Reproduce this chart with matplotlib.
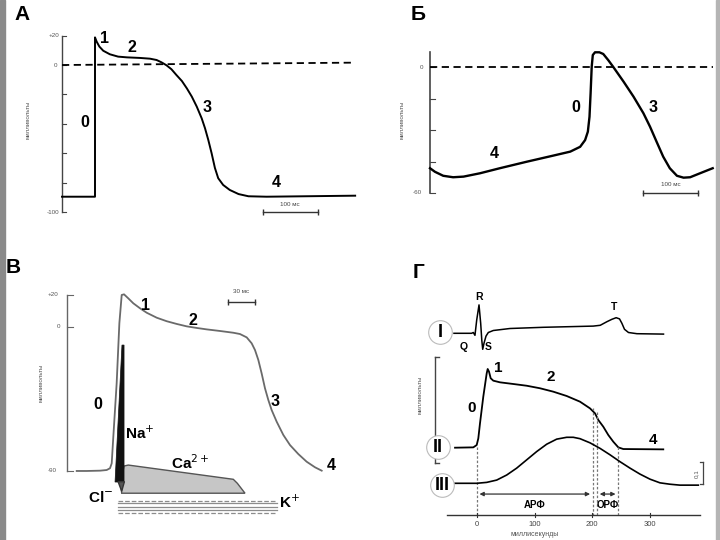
import matplotlib.pyplot as plt
from matplotlib.patches import Polygon, Rectangle

plt.rcParams['font.family'] = ['Liberation Sans', 'DejaVu Sans']

W, H = 720, 540

# ---- panel A: ventricular action potential (ms, mV)
a_t = [-60, 0, 0, 3, 8, 15, 27, 42, 58, 82, 100, 112, 121, 130, 139, 148, 158, 167,
       176, 185, 194, 200, 206, 212, 218, 224, 233, 245, 261, 279, 312, 473]
a_v = [-89.6, -89.6, 18.8, 15.9, 12.5, 9.7, 7.3, 5.7, 5.2, 4.8, 4.3, 3.4, 1.8, -0.2,
       -2.9, -6.8, -10.9, -15.9, -21.5, -28.3, -36.3, -43, -51, -60, -70, -77, -81.6,
       -85, -87.8, -89.3, -89.6, -88.9]
a_ticks = [20, 0, -20, -40, -60, -80, -100]

# ---- panel Б: pacemaker action potential (ms, mV)
b_t = [0, 9, 24, 42, 61, 91, 127, 176, 224, 255, 273, 282, 287, 290, 292, 294, 296,
       300, 308, 315, 324, 333, 352, 370, 388, 400, 412, 424, 436, 449, 461, 473, 491, 514]
b_v = [-48.2, -49.9, -51.8, -52.5, -52.2, -50.6, -48.2, -45.1, -42.2, -40.3, -38, -34.8,
       -30.8, -23.7, -12.5, 0.1, 5.7, 7, 7, 6.2, 3.3, 0.1, -7, -14.1, -22, -28.4, -35.6,
       -42.7, -48.2, -51.8, -52.7, -52.5, -50.6, -48.2]
b_ticks = [0, -15, -30, -45, -60]

# ---- panel В: action potential with ionic currents (ms, mV)
c_t = [-37, -26, -11, -3.7, 0, 1.9, 3.7, 7.4, 10.4, 13, 15.6, 20.3, 25.9, 33.3, 40.8,
       51.9, 63, 74.1, 85.2, 96.3, 107.4, 122.2, 137, 144.4, 151.9, 157.4, 161.1, 164.8,
       168.5, 172.2, 175.9, 179.6, 185.2, 192.6, 200, 209.2, 218.5, 227.8, 235.2]
c_v = [-90.3, -90.3, -90.1, -89.7, -88.6, -85.5, -68.8, -35.5, 2, 19.7, 20.1, 17.6, 14.5,
       11.4, 8.6, 5.5, 3.3, 1.6, 0.1, -0.9, -1.8, -2.8, -3.9, -4.7, -6.8, -10.5, -14.7,
       -20.9, -29.3, -38.6, -45.9, -52.2, -59.5, -67.8, -74.1, -79.7, -84.5, -88, -90.1]
na_t = [5.6, 13.3, 15.6, 15.6]
na_v = [-97.2, -11.6, -11.6, -97.2]
ca_t = [15.6, 20.3, 137, 141.5, 150, 13, 11.9]
ca_v = [-87.2, -86.6, -95.5, -98, -104.2, -104.2, -98]
k_levels = [-109.1, -110.5, -112.8, -114.7, -116.6]
k_styles = ['--', '-', '-', '-', '--']
c_ticks = [20, 0, -90]

# ---- panel Г: ECG (mV), AP (mV), contraction (rel.)
ecg_t = [-39.3, -8.8, -5.9, -3, 0, 4, 6.9, 8.8, 10.4, 12.6, 16.1, 20.1, 28.7, 57.6,
         115.2, 172.9, 201.6, 213.7, 225.3, 233.9, 241.3, 247.1, 251.2, 255.7, 262.6,
         277.2, 323.2]
ecg_v = [0, 0, 0.02, -0.05, 0.33, 0.71, 0.25, -0.17, -0.4, -0.25, -0.07, 0.02, 0.07,
         0.12, 0.15, 0.17, 0.18, 0.2, 0.29, 0.35, 0.39, 0.36, 0.25, 0.1, 0.02, -0.01, -0.02]
ap_t = [-37.5, -5.9, 0, 2.8, 5.7, 11.4, 17.3, 19, 21.3, 24.2, 28.7, 40.3, 63.3, 86.5,
        109.5, 132.5, 155.7, 178.7, 196, 204.7, 210.4, 219, 227.7, 236.3, 245, 253.6, 322.8]
ap_v = [-89.5, -89, -85.5, -75.5, -53, -13, 22, 28.5, 24.5, 14.6, 11, 8.5, 6, 3.4, -0.4,
        -5.5, -12, -20.5, -30.5, -38, -48, -58, -70.5, -80.5, -89, -91.5, -92]
con_t = [-37.5, 0, 17.3, 34.6, 51.9, 69.2, 86.5, 103.8, 121.1, 138.4, 155.7, 167.1,
         178.7, 196, 213.3, 230.6, 247.9, 265.2, 282.5, 299.8, 317.1, 334.4, 351.6, 383.4]
con_v = [0, 0, 0.02, 0.07, 0.18, 0.33, 0.51, 0.69, 0.85, 0.96, 1.0, 1.0, 0.97, 0.88,
         0.76, 0.62, 0.47, 0.33, 0.20, 0.09, 0.01, -0.02, -0.04, -0.04]
time_ticks = [0, 100, 200, 300]
arf_t = [0, 201]
orf_t = [208, 245]
refr_marks = [0, 201, 208, 245]
refr_tops = [-89, -30.5, -36, -89]

fig = plt.figure(figsize=(7.2, 5.4), dpi=100)


def overlay(x0, y0, sx, sy):
    # axes over the whole figure, data (0, 0) at pixel (x0, y0)
    ax = fig.add_axes([0, 0, 1, 1])
    ax.set_xlim(-x0 / sx, (W - x0) / sx)
    ax.set_ylim((y0 - H) / sy, y0 / sy)
    ax.axis('off')
    ax.patch.set_alpha(0)
    return ax


def letter(x, y, s):
    fig.text(x / W, 1 - y / H, s, fontsize=15, fontweight='bold', ha='center', va='center')


def ylab(ax, t, v, fs=4.5):
    ax.text(t, v, 'милливольты', rotation=90, fontsize=fs, color='#555',
            ha='center', va='center')


def num(ax, t, v, s, fs=11.5):
    ax.text(t, v, s, fontsize=fs, fontweight='bold', ha='center', va='center')


def scalebar(ax, t1, t2, v, dv, label):
    ax.plot([t1, t2], [v, v], color='#333', lw=1, marker='|', ms=5, mew=1)
    ax.text((t1 + t2) / 2, v + dv, label, fontsize=4.5, color='#444', ha='center', va='center')


# frame strips of the scanned slide
fig.patches.append(Rectangle((0, 0), 5 / W, 1, transform=fig.transFigure, color='#8a8a8a'))
fig.patches.append(Rectangle((716 / W, 0), 4 / W, 1, transform=fig.transFigure, color='#b5b5b5'))

# ---------------- A
axA = overlay(95, 65, 0.55, 1.47)
axA.plot([-60, -60], [20, -100], color='#444', lw=1)
for v in a_ticks:
    axA.plot([-60, -52], [v, v], color='#444', lw=0.8)
axA.text(-75, 20, '+20', fontsize=4.5, color='#555', ha='center', va='center')
axA.text(-72, 0, '0', fontsize=4.5, color='#555', ha='center', va='center')
axA.text(-77, -100, '-100', fontsize=4.5, color='#555', ha='center', va='center')
ylab(axA, -122, -37)
axA.plot([-60, 473], [0, 1.6], color='black', lw=1.3, ls=(0, (4, 2.5)))
axA.plot(a_t, a_v, color='black', lw=1.4)
num(axA, -18, -39, '0')
num(axA, 18, 18, '1')
num(axA, 67, 12, '2')
num(axA, 204, -29, '3')
num(axA, 330, -80, '4')
scalebar(axA, 305, 405, -100, 5, '100 мс')
letter(22, 15, 'А')

# ---------------- Б
axB = overlay(430, 67, 0.55, 2.1)
axB.plot([0, 0], [7, -60], color='#444', lw=1.2)
for v in b_ticks:
    axB.plot([0, 9], [v, v], color='#444', lw=0.8)
axB.text(-16, 0, '0', fontsize=4.5, color='#555', ha='center', va='center')
axB.text(-23, -60, '-60', fontsize=4.5, color='#555', ha='center', va='center')
ylab(axB, -50, -25)
axB.plot([0, 515], [0, 0], color='black', lw=1.3, ls=(0, (4, 2.5)))
axB.plot(b_t, b_v, color='black', lw=1.7)
num(axB, 265, -19.5, '0')
num(axB, 405, -19.5, '3')
num(axB, 116, -41, '4')
scalebar(axB, 388, 488, -60, 4, '100 мс')
letter(418, 15, 'Б')

# ---------------- В
axC = overlay(110, 326.5, 0.9, 1.6)
axC.plot([-47.8, -47.8], [20, -90], color='#666', lw=1)
for v in c_ticks:
    axC.plot([-47.8, -41], [v, v], color='#666', lw=0.8)
axC.text(-63, 20, '+20', fontsize=4.5, color='#555', ha='center', va='center')
axC.text(-57, 0, '0', fontsize=4.5, color='#555', ha='center', va='center')
axC.text(-64, -90, '-90', fontsize=4.5, color='#555', ha='center', va='center')
ylab(axC, -76, -35)
axC.add_patch(Polygon(list(zip(ca_t, ca_v)), closed=True, facecolor='#c6c6c6',
                      edgecolor='#555', lw=1))
for lev, ls in zip(k_levels, k_styles):
    axC.plot([8.9, 185.6], [lev, lev], color='#8c8c8c', lw=0.9, ls=ls)
axC.plot(c_t, c_v, color='#6a6a6a', lw=1.3)
axC.add_patch(Polygon(list(zip(na_t, na_v)), closed=True, facecolor='#111', edgecolor='#111', lw=0.5))
axC.add_patch(Polygon([(9, -97), (16, -97), (13, -103)], closed=True, facecolor='#555', edgecolor='#333'))
num(axC, -13, -49, '0')
num(axC, 39, 13.4, '1')
num(axC, 92, 4, '2')
num(axC, 183, -47, '3')
num(axC, 246, -87, '4')
axC.text(33, -66.6, r'Na$^{+}$', fontsize=11, fontweight='bold', ha='center', va='center')
axC.text(89, -85, r'Ca$^{2+}$', fontsize=11, fontweight='bold', ha='center', va='center')
axC.text(-11, -107, r'Cl$^{-}$', fontsize=11, fontweight='bold', ha='center', va='center')
axC.text(199, -110, r'K$^{+}$', fontsize=11, fontweight='bold', ha='center', va='center')
scalebar(axC, 131, 161, 15.3, 6.5, '30 мс')
letter(13, 268, 'В')

# ---------------- Г
axE = overlay(476.7, 333.3, 0.578, 40)      # ECG
axP = overlay(476.7, 388, 0.578, 0.667)     # action potential
axM = overlay(476.7, 483.3, 0.578, 46)      # contraction

axE.plot(ecg_t, ecg_v, color='black', lw=1.1)
axE.plot([-63.5], [0.03], 'o', ms=17, mfc='white', mec='#bbb', mew=0.8)
axE.text(-63.5, 0.03, 'I', fontsize=13, fontweight='bold', ha='center', va='center')
axE.text(4, 0.9, 'R', fontsize=7.5, fontweight='bold', ha='center', va='center')
axE.text(-22, -0.35, 'Q', fontsize=7.5, fontweight='bold', ha='center', va='center')
axE.text(20, -0.35, 'S', fontsize=7.5, fontweight='bold', ha='center', va='center')
axE.text(237, 0.65, 'T', fontsize=7.5, fontweight='bold', ha='center', va='center')

axP.plot([-72, -72], [46.5, -112], color='#444', lw=1)
axP.plot([-72, -65], [46.5, 46.5], color='#444', lw=1)
axP.plot([-72, -65], [-112, -112], color='#444', lw=1)
ylab(axP, -98, -10.5)
axP.plot(ap_t, ap_v, color='black', lw=1.3)
axP.plot([-67], [-88.5], 'o', ms=17, mfc='white', mec='#bbb', mew=0.8)
axP.text(-67, -88.5, 'II', fontsize=13, fontweight='bold', ha='center', va='center')
num(axP, -9, -30, '0', 11)
num(axP, 37, 30, '1', 11)
num(axP, 128, 16.5, '2', 11)
num(axP, 305, -78, '4', 11)

# refractory markers and time axis
for t, top in zip(refr_marks, refr_tops):
    axP.plot([t, t], [top, -190], color='#777', lw=0.9, ls=(0, (2, 1.5)))
axP.annotate('', xy=(arf_t[0], -159), xytext=(arf_t[1], -159),
             arrowprops=dict(arrowstyle='<|-|>', color='#333', lw=0.9, mutation_scale=6))
axP.annotate('', xy=(orf_t[0], -159), xytext=(orf_t[1], -159),
             arrowprops=dict(arrowstyle='<|-|>', color='#333', lw=0.9, mutation_scale=6))
axP.text(100, -175, 'АРФ', fontsize=7, fontweight='bold', ha='center', va='center')
axP.text(226, -175, 'ОРФ', fontsize=7, fontweight='bold', ha='center', va='center')
axP.plot([-51.4, 386], [-190.4, -190.4], color='#333', lw=1)
for t in time_ticks:
    axP.plot([t, t], [-187, -194], color='#333', lw=0.8)
    axP.text(t, -205, str(t), fontsize=5.5, color='#444', ha='center', va='center')
axP.text(100, -220, 'миллисекунды', fontsize=5, color='#555', ha='center', va='center')

axM.plot(con_t, con_v, color='black', lw=1.2)
axM.plot([-60], [-0.04], 'o', ms=17, mfc='white', mec='#bbb', mew=0.8)
axM.text(-60, -0.04, 'III', fontsize=13, fontweight='bold', ha='center', va='center')
axM.plot([392, 392], [0.46, -0.015], color='#444', lw=0.9)
axM.plot([387, 392], [0.46, 0.46], color='#444', lw=0.9)
axM.plot([387, 392], [-0.015, -0.015], color='#444', lw=0.9)
axM.text(381, 0.22, '0,1', rotation=90, fontsize=4.5, color='#555', ha='center', va='center')
letter(418, 273, 'Г')

fig.savefig('out.png', dpi=100)
